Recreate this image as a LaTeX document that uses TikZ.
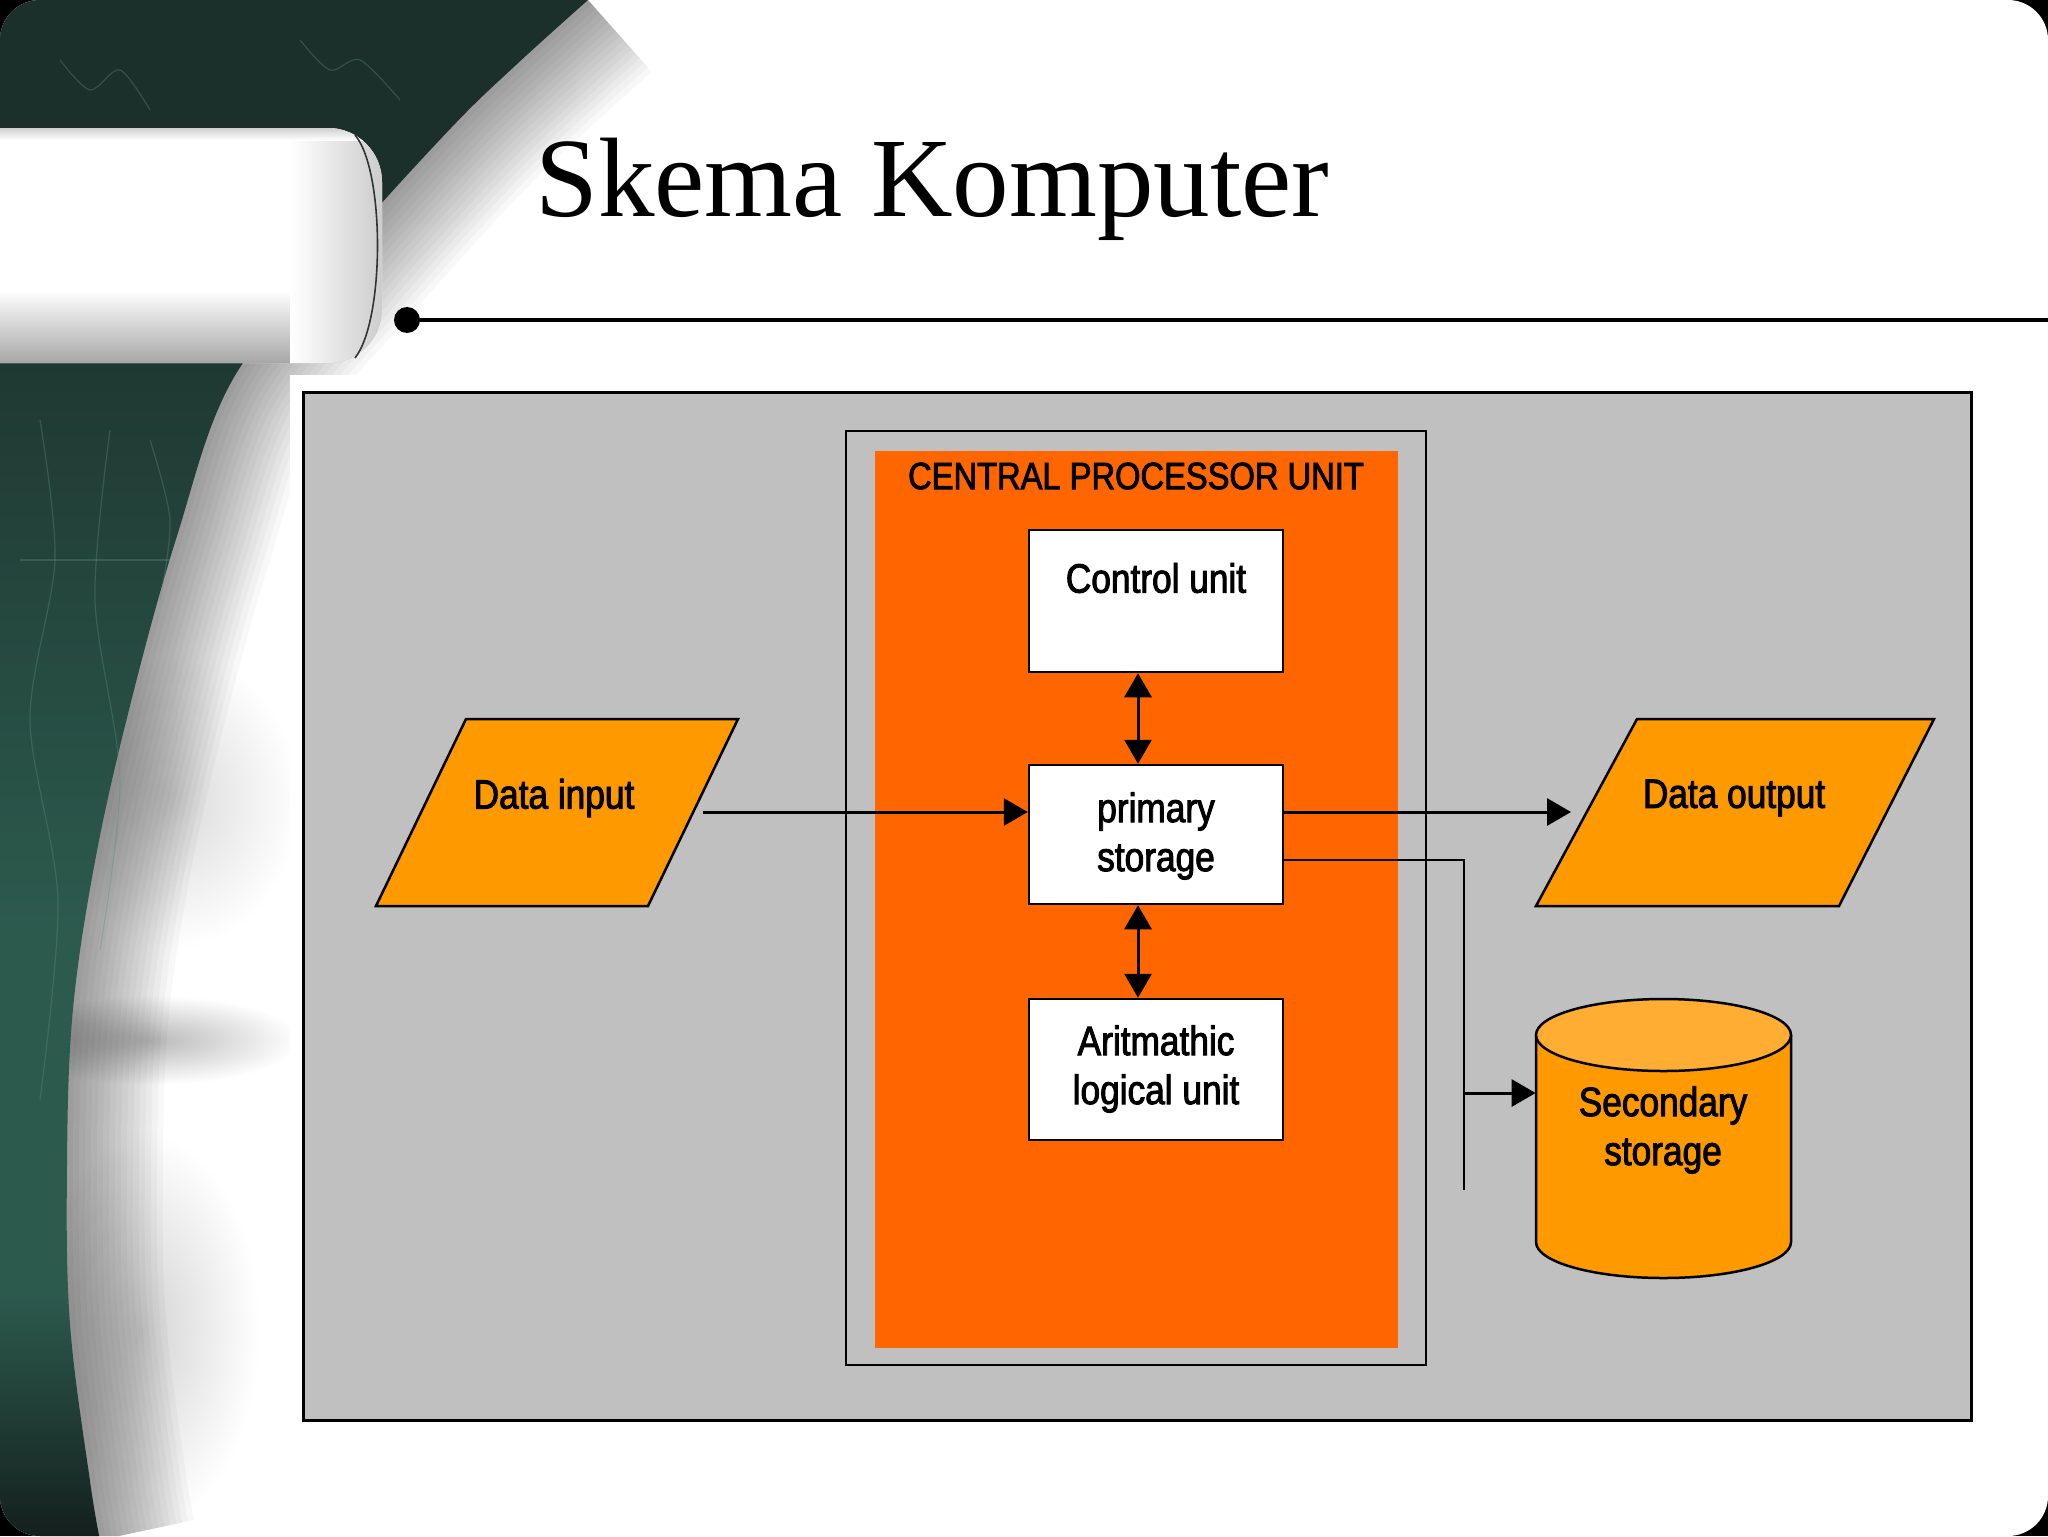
\documentclass[tikz,border=0pt]{standalone}
\usepackage{fontspec}
\setmainfont{Liberation Serif}
\newfontfamily\dfont[FakeStretch=0.86,FakeBold=2.2]{Liberation Sans}
\usetikzlibrary{arrows.meta,calc}
\definecolor{grayb}{HTML}{C0C0C0}
\definecolor{cpuor}{HTML}{FF6600}
\definecolor{ioor}{HTML}{FF9900}
\definecolor{cyltop}{HTML}{FFAD33}
\definecolor{chalktop}{HTML}{1B302B}
\definecolor{chalkbot}{HTML}{2C5A4D}
\definecolor{chalkdark}{HTML}{141F1D}
\definecolor{chalkln}{HTML}{5E8F80}
\pgfdeclareverticalshading{chalkshade}{100bp}{color(0bp)=(chalkdark); color(25bp)=(chalkdark); color(33bp)=(chalkbot); color(45bp)=(chalkbot); color(68bp)=(chalktop); color(100bp)=(chalktop)}
\tikzset{
  lbl/.style={font=\dfont\fontsize{20.5}{24.5}\selectfont, inner sep=0pt, align=center},
  unitbox/.style={draw, fill=white, line width=1.25pt, minimum width=127pt, inner sep=0pt},
  arr/.style={-{Triangle[length=12pt,width=13.5pt]}, line width=1.5pt},
  dblarr/.style={{Triangle[length=12pt,width=13.5pt]}-{Triangle[length=12pt,width=13.5pt]}, line width=1.5pt},
  thinline/.style={line width=1pt},
  shapeline/.style={line width=1.25pt},
  chalk/.style={draw=chalkln, line width=0.6pt, opacity=0.35}
}
\begin{document}
\begin{tikzpicture}[x=0.5pt,y=-0.5pt]
\useasboundingbox (0,0) rectangle (2048,1536);
\fill[black] (0,0) rectangle (2048,1536);
\begin{scope}
\clip[rounded corners=20pt] (0,0) rectangle (2048,1536);
\fill[white] (0,0) rectangle (2048,1536);
% soft grey blobs on the left
\shade[inner color=gray!55, outer color=white] (150,1040) ellipse [x radius=150, y radius=45];
\shade[inner color=gray!30, outer color=white] (170,800) ellipse [x radius=130, y radius=150];
\shade[inner color=gray!35, outer color=white] (140,1330) ellipse [x radius=120, y radius=200];
% shadow along the curved border
\foreach \w in {6,12,...,96}
  \draw[line width=\w pt, black, opacity=0.028] plot[smooth, tension=0.6] coordinates {(588,0) (516,65) (451,128) (340,250) (233,379) (177,536) (133,694) (97,851) (73,1009) (67,1166) (70,1324) (90,1481) (100,1540)};
% dark chalkboard area
\shade[shading=chalkshade] plot[smooth, tension=0.6] coordinates {(588,0) (516,65) (451,128) (340,250) (233,379) (177,536) (133,694) (97,851) (73,1009) (67,1166) (70,1324) (90,1481) (100,1540)} -- (0,1540) -- (0,0) -- cycle;
% faint chalk marks
\draw[chalk] plot[smooth] coordinates {(40,420) (55,560) (30,720) (58,900) (40,1100)};
\draw[chalk] plot[smooth] coordinates {(110,430) (95,600) (120,780) (100,950)};
\draw[chalk] plot[smooth] coordinates {(150,440) (170,520) (160,600)};
\draw[chalk] (20,560) -- (170,560);
\draw[chalk] plot[smooth] coordinates {(60,60) (90,90) (120,70) (150,110)};
\draw[chalk] plot[smooth] coordinates {(300,40) (330,70) (360,60) (400,100)};
% white pill
\fill[white, rounded corners=27pt] (-60,128) rectangle (382,363);
\begin{scope}
\clip[rounded corners=27pt] (-60,128) rectangle (382,363);
\shade[top color=white, bottom color=gray!70] (-60,290) rectangle (382,364);
\shade[left color=white, right color=gray!40] (290,128) rectangle (383,363);
\shade[top color=gray!40, bottom color=white] (-60,127) rectangle (382,140);
\end{scope}
\draw[gray!40!black, line width=0.8pt] (355,135) .. controls (385,170) and (385,320) .. (355,358);
\end{scope}
% title and rule
\node[anchor=base west, inner sep=0pt, font=\fontsize{56.5}{60}\selectfont] (title) at (535,216) {Skema Komputer};
\node[circle, fill=black, minimum size=13pt, inner sep=0pt] (dot) at (407,320) {};
\coordinate (ruleend) at (2048,320);
\draw[line width=2.4pt] (dot.center) -- (ruleend);
% diagram panel
\fill[white] (290,375) rectangle (1985,1430);
\draw[fill=grayb, line width=1.5pt] (303,392) rectangle (1971,1420);
\draw[thinline] (846,431) rectangle (1426,1365);
\fill[cpuor] (875,451) rectangle (1398,1348);
\node[lbl, font=\dfont\fontsize{19}{22}\selectfont] (cpul) at (1136,476) {CENTRAL PROCESSOR UNIT};
% unit boxes
\node[unitbox, minimum height=71pt] (cu) at (1156,601) {};
\node[lbl] (cut) at (1156,578) {Control unit};
\node[unitbox, minimum height=69.5pt] (ps) at (1156,834.5) {};
\node[lbl] (pst) at (1156,836) {primary\\storage};
\node[unitbox, minimum height=70.5pt] (alu) at (1156,1069.5) {};
\node[lbl] (alut) at (1156,1069) {Aritmathic\\logical unit};
\draw[dblarr] (1138,0 |- cu.south) -- (1138,0 |- ps.north);
\draw[dblarr] (1138,0 |- ps.south) -- (1138,0 |- alu.north);
% data input / output
\draw[fill=ioor, shapeline] (466,719) -- (738,719) -- (648,906) -- (376,906) -- cycle;
\node[lbl] (din) at (554,798) {Data input};
\draw[fill=ioor, shapeline] (1637,719) -- (1934,719) -- (1839,906) -- (1536,906) -- cycle;
\node[lbl] (dout) at (1734,798) {Data output};
\coordinate (dinR) at (703,812);
\coordinate (doutL) at (1571,812);
\draw[arr] (dinR) -- (ps.west |- dinR);
\draw[arr] (ps.east |- doutL) -- (doutL);
% secondary storage
\node[minimum width=127.5pt, minimum height=140pt, inner sep=0pt] (sec) at (1663.5,1139) {};
\draw[fill=ioor, shapeline] (1536,1035) -- (1536,1242) arc[start angle=180, end angle=0, x radius=127.5, y radius=36] -- (1791,1035);
\draw[fill=cyltop, shapeline] (1663.5,1035) ellipse [x radius=127.5, y radius=36];
\node[lbl] (secl) at (1663,1130) {Secondary\\storage};
\coordinate (sbend) at (1464,860);
\coordinate (sbr) at (1464,1093);
\coordinate (send) at (1464,1190);
\draw[thinline] (ps.east |- sbend) -- (sbend) -- (send);
\draw[arr] (sbr) -- (sec.west |- sbr);
\end{tikzpicture}
\end{document}
